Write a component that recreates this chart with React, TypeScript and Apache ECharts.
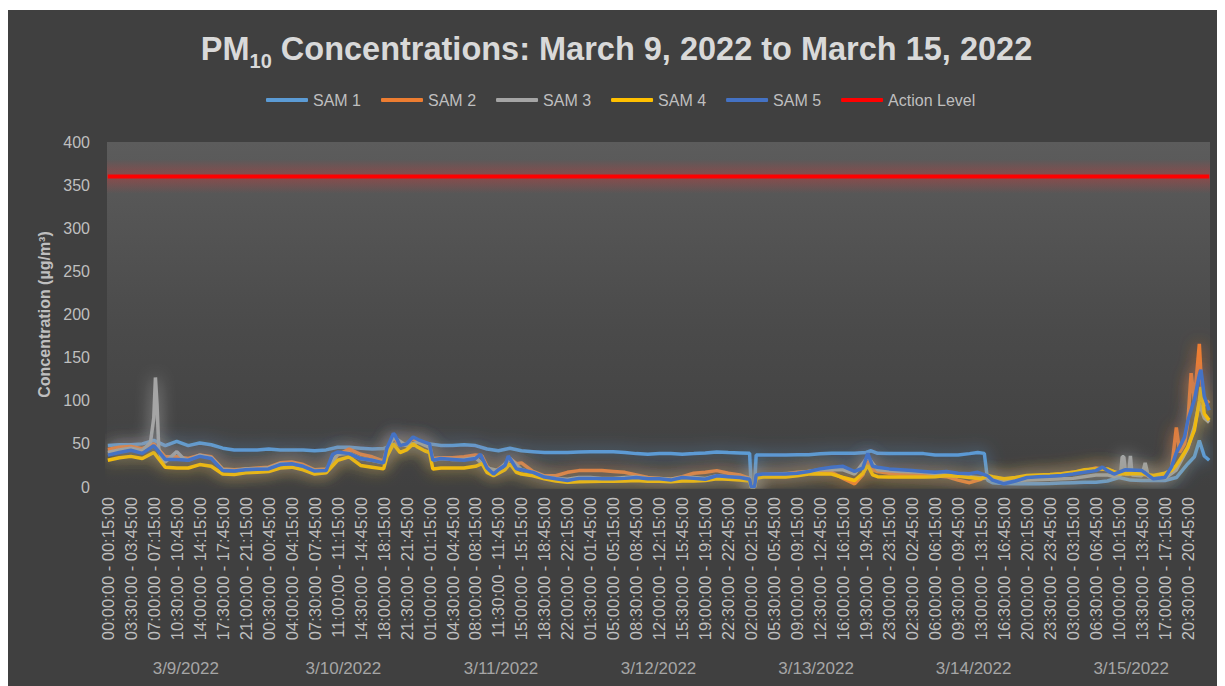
import React, { useEffect, useRef } from "react";
import * as echarts from "echarts";

// ---- DATA (15-minute slots, slot 0 = 3/9/2022 00:00) ----
const dateLabels = ["3/9/2022", "3/10/2022", "3/11/2022", "3/12/2022", "3/13/2022", "3/14/2022", "3/15/2022"];
const slotsPerDay = 96;
const actionLevel = 360;

// [slot, value]
const sam1: number[][] = [
  [0, 48], [7, 49], [14, 49], [21, 50], [28, 54], [35, 48], [42, 53], [49, 48], [56, 51], [63, 49], [70, 45], [77, 43],
  [84, 43], [91, 43], [98, 44], [105, 43], [112, 43], [119, 43], [126, 42], [133, 43], [140, 46], [147, 46], [154, 45], [161, 44],
  [168, 44.5], [175, 50], [182, 48], [189, 52], [196, 50], [203, 48], [210, 48], [217, 49], [224, 48], [231, 44], [238, 42], [245, 45],
  [252, 42], [259, 41], [266, 40], [273, 40], [280, 40], [287, 40.5], [294, 41], [301, 41], [308, 41], [315, 40], [322, 38.7], [329, 38],
  [336, 38.7], [343, 38.7], [350, 38], [357, 38.7], [364, 39.5], [371, 40.6], [378, 40], [385, 39.5], [391, 39], [392, 0], [394, 0], [395, 37],
  [399, 37], [406, 37], [413, 37], [420, 37.5], [427, 37.5], [434, 38.5], [441, 39], [448, 39], [455, 39], [462, 40], [465, 42], [469, 39],
  [476, 38.7], [483, 38.7], [490, 38.7], [497, 38.7], [504, 37], [511, 37], [518, 37], [525, 38.7], [530, 40], [534, 39], [536, 8], [539, 5],
  [546, 4], [553, 3.7], [560, 4], [567, 3.7], [574, 4], [581, 4.5], [588, 5], [595, 5.5], [602, 5.6], [609, 7], [616, 11], [623, 8],
  [630, 7.6], [637, 7.6], [644, 7.6], [651, 11], [658, 27], [662, 35], [665, 54], [668, 36], [671, 31]
];
const sam2: number[][] = [
  [0, 43.5], [7, 46], [14, 47], [21, 44.5], [28, 50], [35, 35], [42, 35], [49, 33], [56, 37], [63, 35], [70, 21], [77, 20],
  [84, 21], [91, 22], [98, 23], [105, 28], [112, 29], [119, 26], [126, 20], [133, 21], [140, 37], [147, 44], [154, 38], [161, 35],
  [168, 30], [170, 45], [174, 58], [178, 48], [182, 50], [186, 56], [189, 54], [193, 50], [196, 48], [198, 33], [203, 34], [210, 34],
  [217, 35], [224, 37], [228, 36], [231, 24], [235, 17], [238, 21], [242, 26], [245, 33], [249, 27], [252, 28], [259, 18], [266, 13],
  [273, 13], [280, 17], [287, 19], [294, 19], [301, 19], [308, 18], [315, 17], [322, 14], [329, 11], [336, 10], [343, 9], [350, 12],
  [357, 16], [364, 17], [371, 19], [378, 16], [385, 14], [391, 10], [392, 0], [394, 0], [395, 13], [399, 14], [406, 14], [413, 15],
  [420, 17], [427, 18], [434, 19], [441, 17], [448, 10], [455, 3.7], [460, 14], [463, 30], [466, 20], [469, 18], [476, 16], [483, 15],
  [490, 15], [497, 14], [504, 13], [511, 12], [518, 8], [525, 5], [532, 9], [536, 12], [539, 11], [546, 8], [553, 10], [560, 12],
  [567, 13], [574, 14], [581, 15], [588, 17], [595, 19], [602, 22], [609, 20], [616, 16], [623, 15], [630, 15], [637, 12], [644, 15],
  [648, 20], [651, 69], [653, 40], [656, 50], [658, 75], [660, 132], [662, 100], [665, 166], [666, 130], [668, 95], [671, 100]
];
const sam3: number[][] = [
  [0, 40], [7, 43], [14, 45], [21, 42], [26, 52], [28, 80], [29, 127], [30, 95], [31, 45], [33, 30], [35, 29], [42, 41],
  [46, 33], [49, 31], [56, 37], [63, 34], [70, 20], [77, 19], [84, 21], [91, 21], [98, 22], [105, 27], [112, 27], [119, 24],
  [126, 19], [133, 19], [140, 38], [147, 39], [154, 33], [161, 31], [168, 28], [174, 58], [182, 48], [189, 52], [196, 46], [198, 31],
  [203, 33], [210, 32], [217, 32], [224, 34], [231, 22], [238, 19], [245, 33], [252, 20], [259, 17], [266, 12], [273, 10], [280, 9],
  [287, 11], [294, 11], [301, 10], [308, 10], [315, 11], [322, 12], [329, 10], [336, 10], [343, 9], [350, 11], [357, 11], [364, 10],
  [371, 13], [378, 12], [385, 11], [391, 10], [392, 0], [394, 0], [395, 14], [406, 15], [420, 16], [434, 20], [448, 20], [455, 15],
  [463, 35], [469, 20], [483, 18], [497, 17], [511, 14], [525, 12], [536, 10], [546, 6], [560, 8], [574, 9], [588, 10], [602, 14],
  [609, 14], [613, 12], [617, 14], [618, 35], [619, 35], [620, 15], [622, 15], [623, 36], [624, 14], [630, 13], [632, 28], [634, 12],
  [644, 10], [651, 20], [658, 45], [662, 70], [665, 97], [668, 80], [671, 75]
];
const sam4: number[][] = [
  [0, 31], [7, 34], [14, 35.5], [21, 33], [28, 40], [35, 23], [42, 22], [49, 22], [56, 26], [63, 24], [70, 15], [77, 14.5],
  [84, 16.5], [91, 17], [98, 18], [105, 22], [112, 23], [119, 20], [126, 15], [133, 16.5], [140, 31], [147, 35], [154, 25], [161, 23],
  [168, 21], [170, 35], [174, 50], [178, 40], [182, 43], [186, 50], [189, 46], [193, 42], [196, 40], [198, 21], [203, 22], [210, 22],
  [217, 22], [224, 24], [228, 27], [231, 17], [235, 13], [238, 16], [242, 20], [245, 27], [249, 17], [252, 15], [259, 13], [266, 9.5],
  [273, 7], [280, 5.6], [287, 6], [294, 6.5], [301, 6.6], [308, 6.6], [315, 7], [322, 7.6], [329, 6.6], [336, 6.6], [343, 6], [350, 7],
  [357, 7], [364, 7.6], [371, 9.5], [378, 9], [385, 8], [391, 7], [392, 0], [394, 0], [395, 10], [399, 11.5], [406, 11.5], [413, 11.5],
  [420, 13], [427, 15], [434, 15.3], [441, 15], [448, 11], [455, 7.6], [460, 16], [463, 25], [466, 14], [469, 12], [476, 11.5], [483, 11.5],
  [490, 11.5], [497, 11.5], [504, 12], [511, 13.4], [518, 12.5], [525, 11], [532, 9.5], [536, 13.4], [539, 12], [546, 9.5], [553, 11], [560, 13.4],
  [567, 14], [574, 14.5], [581, 15.3], [588, 17], [595, 20], [602, 21], [609, 21], [616, 15.3], [623, 15.3], [630, 15.3], [637, 13.4], [644, 16],
  [648, 19], [651, 25], [653, 31], [656, 40], [658, 46.5], [662, 66], [665, 100], [666, 116], [668, 85], [671, 77.5]
];
const sam5: number[][] = [
  [0, 37], [7, 40], [14, 42.6], [21, 39], [28, 48], [35, 32], [42, 32], [49, 31], [56, 35.5], [63, 33], [70, 19], [77, 18.5],
  [84, 20], [91, 20.5], [98, 21], [105, 26], [112, 27], [119, 24], [126, 18.5], [133, 19], [137, 38], [140, 40.6], [147, 38.7], [154, 33],
  [161, 31], [168, 28], [170, 45], [174, 62], [175, 60], [178, 48], [182, 50], [186, 58], [189, 55], [193, 52], [196, 50], [198, 31],
  [203, 33], [210, 32], [217, 31], [224, 33], [227, 38], [231, 22], [235, 15], [238, 20], [242, 25], [244, 36], [249, 21], [252, 20],
  [259, 17], [266, 11.5], [273, 9.5], [280, 7.6], [287, 10], [294, 10], [301, 9.5], [308, 9.5], [315, 10], [322, 11], [329, 9.5], [336, 9.5],
  [343, 8], [350, 11], [357, 10], [364, 9], [371, 13], [378, 12], [385, 11], [391, 9], [392, 0], [394, 0], [395, 14], [399, 15],
  [406, 15], [413, 15], [420, 16], [427, 18], [434, 21], [441, 23], [448, 24], [455, 18], [460, 22], [463, 39], [466, 24], [469, 23],
  [476, 21], [483, 20], [490, 19], [497, 18], [504, 17], [511, 18], [518, 16], [525, 15.5], [530, 17], [536, 13], [539, 8], [546, 3.7],
  [553, 7], [560, 11], [567, 12], [574, 12.5], [581, 13.4], [588, 15], [595, 17], [602, 19], [606, 23], [609, 19], [613, 15], [620, 20],
  [630, 19], [637, 9.5], [644, 11], [648, 23], [651, 40], [653, 46.5], [656, 58], [658, 77], [662, 101], [665, 130], [666, 136], [668, 105],
  [671, 89]
];

const seriesNames = ["SAM 1", "SAM 2", "SAM 3", "SAM 4", "SAM 5", "Action Level"];
const seriesColors = ["#5B9BD5", "#ED7D31", "#A5A5A5", "#FFC000", "#4472C4", "#FF0000"];
const glowColors = [
  "rgba(91,155,213,0.8)",
  "rgba(237,125,49,0.8)",
  "rgba(190,190,190,0.8)",
  "rgba(255,192,0,0.75)",
  "rgba(68,114,196,0.8)",
  "rgba(255,0,0,0)",
];

function pad(n: number) {
  return n < 10 ? "0" + n : "" + n;
}
function fmt(min: number) {
  const h = Math.floor(min / 60) % 24;
  const m = min % 60;
  return pad(h) + ":" + pad(m) + ":00";
}
const slotLabels: string[] = [];
for (let d = 0; d < dateLabels.length; d++) {
  for (let i = 0; i < slotsPerDay; i++) {
    slotLabels.push(fmt(i * 15) + " - " + fmt(i * 15 + 15));
  }
}
const lastSlot = slotLabels.length - 1;
const actionData = [[0, actionLevel], [lastSlot, actionLevel]];

export default function App() {
  const ref = useRef<HTMLDivElement>(null);
  useEffect(() => {
    if (!ref.current) return;
    const chart = echarts.init(ref.current, null, { renderer: "svg" });
    const font = "'Liberation Sans', Arial, sans-serif";
    const dataSets = [sam1, sam2, sam3, sam4, sam5, actionData];
    const series: any[] = dataSets.map((d, i) => ({
      name: seriesNames[i],
      type: "line",
      data: d,
      showSymbol: false,
      symbol: "none",
      xAxisIndex: 0,
      yAxisIndex: 0,
      color: seriesColors[i],
      lineStyle:
        i === 5
          ? { color: seriesColors[i], width: 4 }
          : {
              color: seriesColors[i],
              width: 3.5,
              shadowColor: glowColors[i],
              shadowBlur: 16,
            },
      emphasis: { disabled: true },
      z: 2 + i,
    }));
    // soft red glow around the action level line
    series[5].markArea = {
      silent: true,
      data: [[{ yAxis: actionLevel - 20 }, { yAxis: actionLevel + 20 }]],
      itemStyle: {
        color: {
          type: "linear",
          x: 0,
          y: 0,
          x2: 0,
          y2: 1,
          colorStops: [
            { offset: 0, color: "rgba(200,60,60,0)" },
            { offset: 0.5, color: "rgba(200,60,60,0.45)" },
            { offset: 1, color: "rgba(200,60,60,0)" },
          ],
        },
      },
    };
    chart.setOption({
      animation: false,
      backgroundColor: "#404040",
      textStyle: { fontFamily: font },
      title: {
        left: "center",
        top: 17,
        padding: 0,
        text: "{a|PM}{sub|10}{a| Concentrations: March 9, 2022 to March 15, 2022}",
        textStyle: {
          rich: {
            a: { fontSize: 32.5, fontWeight: "bold", color: "#d9d9d9", fontFamily: font, lineHeight: 44, verticalAlign: "middle" },
            sub: { fontSize: 20, fontWeight: "bold", color: "#d9d9d9", fontFamily: font, lineHeight: 20, verticalAlign: "bottom" },
          },
        },
      },
      legend: {
        data: seriesNames,
        left: 258,
        top: 82,
        padding: 0,
        itemGap: 20,
        itemWidth: 42,
        itemHeight: 4,
        icon: "roundRect",
        textStyle: { color: "#bfbfbf", fontSize: 16, fontFamily: font },
        itemStyle: { shadowBlur: 0 },
      },
      grid: {
        left: 99,
        right: 15,
        top: 132,
        bottom: 199,
        show: true,
        borderWidth: 0,
        backgroundColor: {
          type: "linear",
          x: 0,
          y: 0,
          x2: 0,
          y2: 1,
          colorStops: [
            { offset: 0, color: "#5c5c5c" },
            { offset: 0.55, color: "#4a4a4a" },
            { offset: 1, color: "#404040" },
          ],
        },
      },
      xAxis: [
        {
          type: "category",
          data: slotLabels,
          boundaryGap: true,
          axisLine: { show: false },
          axisTick: { show: false },
          splitLine: { show: false },
          axisLabel: {
            interval: 13,
            rotate: 90,
            color: "#bfbfbf",
            fontSize: 16.5,
            margin: 10,
            fontFamily: font,
          },
        },
        {
          type: "category",
          data: dateLabels,
          position: "bottom",
          boundaryGap: true,
          axisLine: { show: false },
          axisTick: { show: false },
          splitLine: { show: false },
          axisLabel: {
            interval: 0,
            color: "#a6a6a6",
            fontSize: 17,
            margin: 173,
            fontFamily: font,
          },
        },
      ],
      yAxis: {
        type: "value",
        min: 0,
        max: 400,
        interval: 50,
        name: "Concentration (µg/m³)",
        nameLocation: "middle",
        nameGap: 52,
        nameTextStyle: { color: "#bfbfbf", fontSize: 16, fontWeight: "bold", fontFamily: font },
        axisLine: { show: false },
        axisTick: { show: false },
        splitLine: { show: false },
        axisLabel: { color: "#bfbfbf", fontSize: 16, margin: 17, fontFamily: font },
      },
      series,
    });
    return () => chart.dispose();
  }, []);
  return (
    <div style={{ paddingTop: 2 }}>
      <div ref={ref} style={{ width: 1217, height: 676, background: "#404040" }} />
    </div>
  );
}
